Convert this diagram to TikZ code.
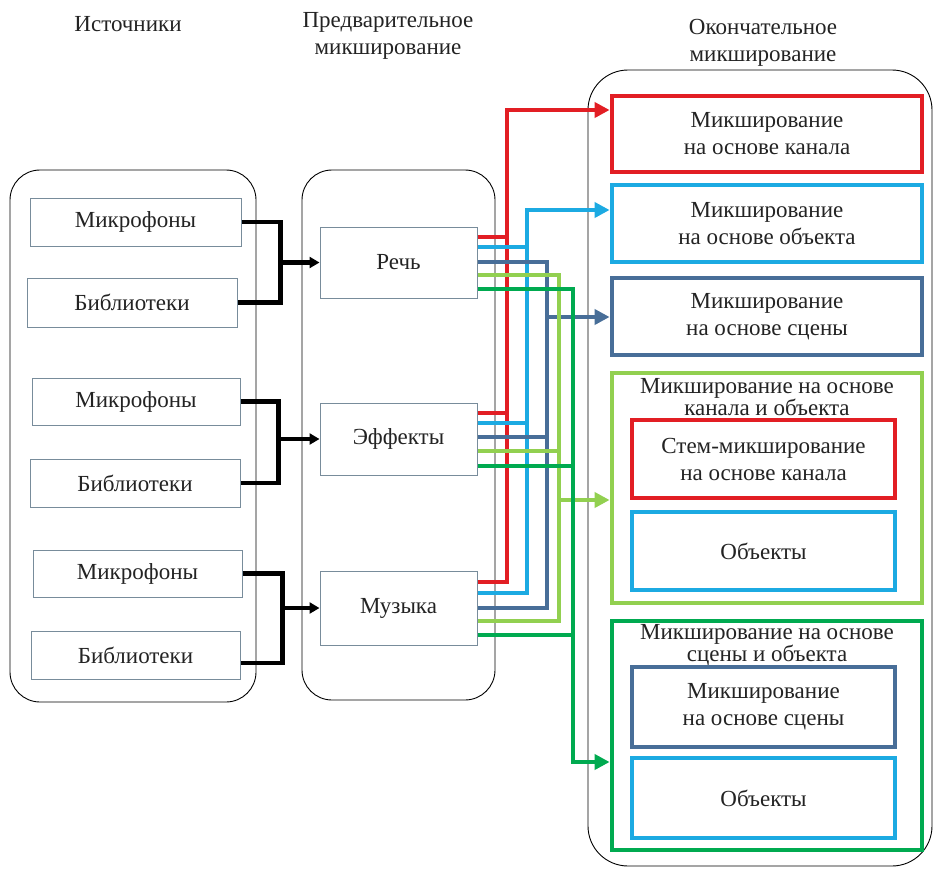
\documentclass[tikz,border=0pt]{standalone}
\usepackage{fontspec}
\setmainfont{Liberation Serif}
\newfontfamily\ruserif{Liberation Serif}
\usetikzlibrary{arrows.meta,calc}
\definecolor{cred}{RGB}{226,30,36}
\definecolor{clb}{RGB}{28,170,226}
\definecolor{cst}{RGB}{72,110,152}
\definecolor{clg}{RGB}{146,208,80}
\definecolor{cdg}{RGB}{0,170,80}
\definecolor{bgray}{RGB}{120,140,155}
\definecolor{txt}{RGB}{35,35,35}
\tikzset{
  every node/.style={font=\ruserif\fontsize{23}{27}\selectfont, text=txt, align=center, inner sep=0pt},
  cont/.style={draw=black, line width=0.9pt},
  srcbox/.style={draw=bgray, line width=1pt, fill=white},
  finbox/.style={line width=4.8pt, fill=white},
  blk/.style={draw=black, line width=4.2pt},
  blkarrow/.style={blk, -{Triangle[length=10pt,width=11pt]}},
  col/.style={line width=4.4pt},
  colarrow/.style={col, -{Triangle[length=15pt,width=15pt]}},
  titlefont/.style={font=\ruserif\fontsize{23}{21}\selectfont},
}
\begin{document}
\begin{tikzpicture}[x=1pt,y=-1pt]
\path[use as bounding box] (0,0) rectangle (937,870);

% headers
\node (h1) at (128,24) {Источники};
\node (h2) at (388,36) {Предварительное\\микширование};
\node (h3) at (763,43) {Окончательное\\микширование};

% containers
\draw[cont, rounded corners=30pt] (10,170) rectangle (256,702);
\draw[cont, rounded corners=30pt] (302,170) rectangle (495,700);
\draw[cont, rounded corners=40pt] (588,70) rectangle (932,866);

% source boxes
\node[srcbox, minimum width=211pt, minimum height=48pt] (m1) at (135.5,222) {Микрофоны};
\node[srcbox, minimum width=210pt, minimum height=49pt] (b1) at (132,302.5) {Библиотеки};
\node[srcbox, minimum width=208pt, minimum height=47pt] (m2) at (136,401.5) {Микрофоны};
\node[srcbox, minimum width=210pt, minimum height=48pt] (b2) at (135,483) {Библиотеки};
\node[srcbox, minimum width=209pt, minimum height=47pt] (m3) at (137.5,573.5) {Микрофоны};
\node[srcbox, minimum width=209pt, minimum height=48pt] (b3) at (135.5,655) {Библиотеки};

% pre-mix boxes
\node[srcbox, minimum width=157pt, minimum height=71pt] (speech) at (398.5,262.5) {Речь};
\node[srcbox, minimum width=157pt, minimum height=72pt] (fx) at (398.5,439) {Эффекты};
\node[srcbox, minimum width=157pt, minimum height=74pt] (music) at (398.5,608) {Музыка};

% final boxes
\node[finbox, draw=cred, minimum width=310pt, minimum height=76pt] (f1) at (767,134) {Микширование\\на основе канала};
\node[finbox, draw=clb, minimum width=310pt, minimum height=77pt] (f2) at (767,223.5) {Микширование\\на основе объекта};
\node[finbox, draw=cst, minimum width=310pt, minimum height=77pt] (f3) at (767,316.5) {Микширование\\на основе сцены};

\node[finbox, draw=clg, minimum width=310pt, minimum height=230pt] (g1) at (767,488) {};
\node[titlefont] (g1t) at (767,397) {Микширование на основе\\канала и объекта};
\node[finbox, draw=cred, minimum width=263pt, minimum height=78pt] (g1a) at (763.5,459) {Стем-микширование\\на основе канала};
\node[finbox, draw=clb, minimum width=263pt, minimum height=78pt] (g1b) at (763.5,551) {Объекты};

\node[finbox, draw=cdg, minimum width=310pt, minimum height=229pt] (g2) at (767,735.5) {};
\node[titlefont] (g2t) at (767,645) {Микширование на основе\\сцены и объекта};
\node[finbox, draw=cst, minimum width=263pt, minimum height=80pt] (g2a) at (763.5,707) {Микширование\\на основе сцены};
\node[finbox, draw=clb, minimum width=263pt, minimum height=80pt] (g2b) at (763.5,798) {Объекты};

% black connectors
\draw[blk] (m1.east) -- ++(39,0) |- (b1.east);
\draw[blkarrow] (speech.west -| 280,0) -- (speech.west);
\draw[blk] (m2.east) -- ++(38,0) |- (b2.east);
\draw[blkarrow] (fx.west -| 278,0) -- (fx.west);
\draw[blk] (m3.east) -- ++(40,0) |- (b3.east |- 0,663);
\draw[blkarrow] (music.west -| 282,0) -- (music.west);

% red
\draw[col, draw=cred] (speech.east |- 0,237) -- (507,237);
\draw[col, draw=cred] (fx.east |- 0,413) -- (507,413);
\draw[colarrow, draw=cred] (music.east |- 0,582) -| (507,110) -- (f1.west |- 0,110);
% light blue
\draw[col, draw=clb] (speech.east |- 0,247) -- (527,247);
\draw[col, draw=clb] (fx.east |- 0,423) -- (527,423);
\draw[colarrow, draw=clb] (music.east |- 0,593) -| (527,210) -- (f2.west |- 0,210);
% steel blue
\draw[col, draw=cst] (speech.east |- 0,262) -| (547,608) -- (music.east |- 0,608);
\draw[col, draw=cst] (fx.east |- 0,437) -- (547,437);
\draw[colarrow, draw=cst] (547,317) -- (f3.west |- 0,317);
% light green
\draw[col, draw=clg] (speech.east |- 0,275) -| (559,621) -- (music.east |- 0,621);
\draw[col, draw=clg] (fx.east |- 0,451) -- (559,451);
\draw[colarrow, draw=clg] (559,500) -- (g1.west |- 0,500);
% dark green
\draw[colarrow, draw=cdg] (speech.east |- 0,289) -| (573,762) -- (g2.west |- 0,762);
\draw[col, draw=cdg] (fx.east |- 0,466) -- (573,466);
\draw[col, draw=cdg] (music.east |- 0,635) -- (573,635);
\end{tikzpicture}
\end{document}
